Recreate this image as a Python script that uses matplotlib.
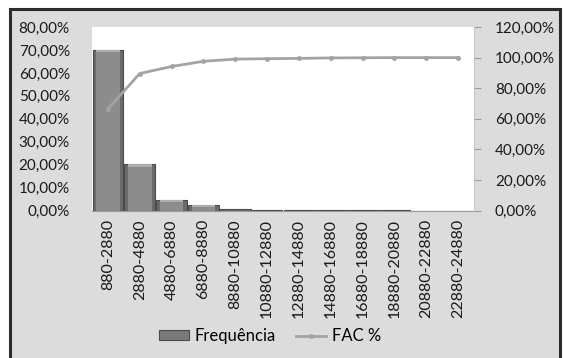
import matplotlib.pyplot as plt
import numpy as np
from matplotlib.patches import Rectangle
from matplotlib.lines import Line2D
from matplotlib.ticker import FuncFormatter

plt.rcParams["font.family"] = ["Lato", "DejaVu Sans"]

classes = [
    "880-2880", "2880-4880", "4880-6880", "6880-8880", "8880-10880",
    "10880-12880", "12880-14880", "14880-16880", "16880-18880",
    "18880-20880", "20880-22880", "22880-24880",
]
frequencia = [69.9, 20.2, 4.7, 2.6, 0.9, 0.3, 0.2, 0.2, 0.1, 0.1, 0.0, 0.0]
fac = [66.5, 89.6, 94.2, 97.6, 99.0, 99.3, 99.5, 99.8, 99.9, 100.0, 100.0, 100.0]

W, H = 563, 358
fig = plt.figure(figsize=(W / 100, H / 100), dpi=100)
fig.patch.set_facecolor("#dcdcdc")

# white margin outside the frame, then the dark frame itself
fig.patches.append(Rectangle((0, 1 - 9 / H), 1, 9 / H, transform=fig.transFigure,
                             facecolor="white", edgecolor="none", zorder=-2))
fig.patches.append(Rectangle((0, 0), 10 / W, 1, transform=fig.transFigure,
                             facecolor="white", edgecolor="none", zorder=-2))
fig.patches.append(Rectangle((560 / W, 0), 3 / W, 1, transform=fig.transFigure,
                             facecolor="white", edgecolor="none", zorder=-2))
fig.patches.append(Rectangle((10 / W, -0.05), 550 / W, 1.05 - 9 / H,
                             transform=fig.transFigure, facecolor="none",
                             edgecolor="#2b2b2b", linewidth=2.2, zorder=-1))

ax = fig.add_axes([92 / W, (H - 210.7) / H, 382 / W, 183.7 / H])
ax.set_facecolor("white")
x = np.arange(len(classes))

# bevelled bars: dark outer body, lighter inset face and a light top cap
ax.bar(x, frequencia, width=0.96, color="#6a6a6a", edgecolor="#4a4a4a",
       linewidth=0.8, zorder=2)
cap = 1.0
inner = [max(v - cap, 0) for v in frequencia]
ax.bar(x, inner, width=0.74, color="#8c8c8c", edgecolor="none", zorder=3)
ax.bar(x, [cap if v > 2 else 0 for v in frequencia],
       bottom=[v - cap for v in frequencia],
       width=0.74, color="#adadad", edgecolor="none", zorder=4)

ax.set_xlim(-0.5, len(classes) - 0.5)
ax.set_ylim(0, 80)
ax.set_yticks(np.arange(0, 81, 10))
pct = FuncFormatter(lambda v, _: f"{v:.2f}%".replace(".", ","))
ax.yaxis.set_major_formatter(pct)
ax.set_xticks(x)
ax.set_xticklabels(classes, rotation=90, fontsize=11.5, color="#1a1a1a")
ax.tick_params(axis="y", length=0, labelsize=11, labelcolor="#1a1a1a", pad=16)
ax.tick_params(axis="x", length=0, pad=6)
for s in ["top", "right", "left"]:
    ax.spines[s].set_visible(False)
ax.spines["bottom"].set_color("#9a9a9a")

ax2 = ax.twinx()
ax2.plot(x, fac, color="#a3a3a3", linewidth=2, marker="o", markersize=2.5,
         markerfacecolor="#a3a3a3", zorder=5)
ax2.set_ylim(0, 120)
ax2.set_yticks(np.arange(0, 121, 20))
ax2.yaxis.set_major_formatter(pct)
ax2.tick_params(axis="y", length=5, color="#9a9a9a", labelsize=11,
                labelcolor="#1a1a1a", pad=10)
for s in ["top", "left", "bottom"]:
    ax2.spines[s].set_visible(False)
ax2.spines["right"].set_color("#c8c8c8")
ax.set_zorder(1)
ax2.set_zorder(2)

handles = [
    Rectangle((0, 0), 1, 1, facecolor="#7a7a7a", edgecolor="#4a4a4a", linewidth=0.8),
    Line2D([], [], color="#a3a3a3", linewidth=2, marker="o", markersize=2.5),
]
fig.legend(handles, ["Frequência", "FAC %"], loc="center", ncol=2,
           bbox_to_anchor=(270 / W, 1 - 336 / H), frameon=False, fontsize=12,
           handlelength=1.8, handleheight=0.5, handletextpad=0.35,
           columnspacing=1.2)

fig.savefig("out.png", dpi=100)
